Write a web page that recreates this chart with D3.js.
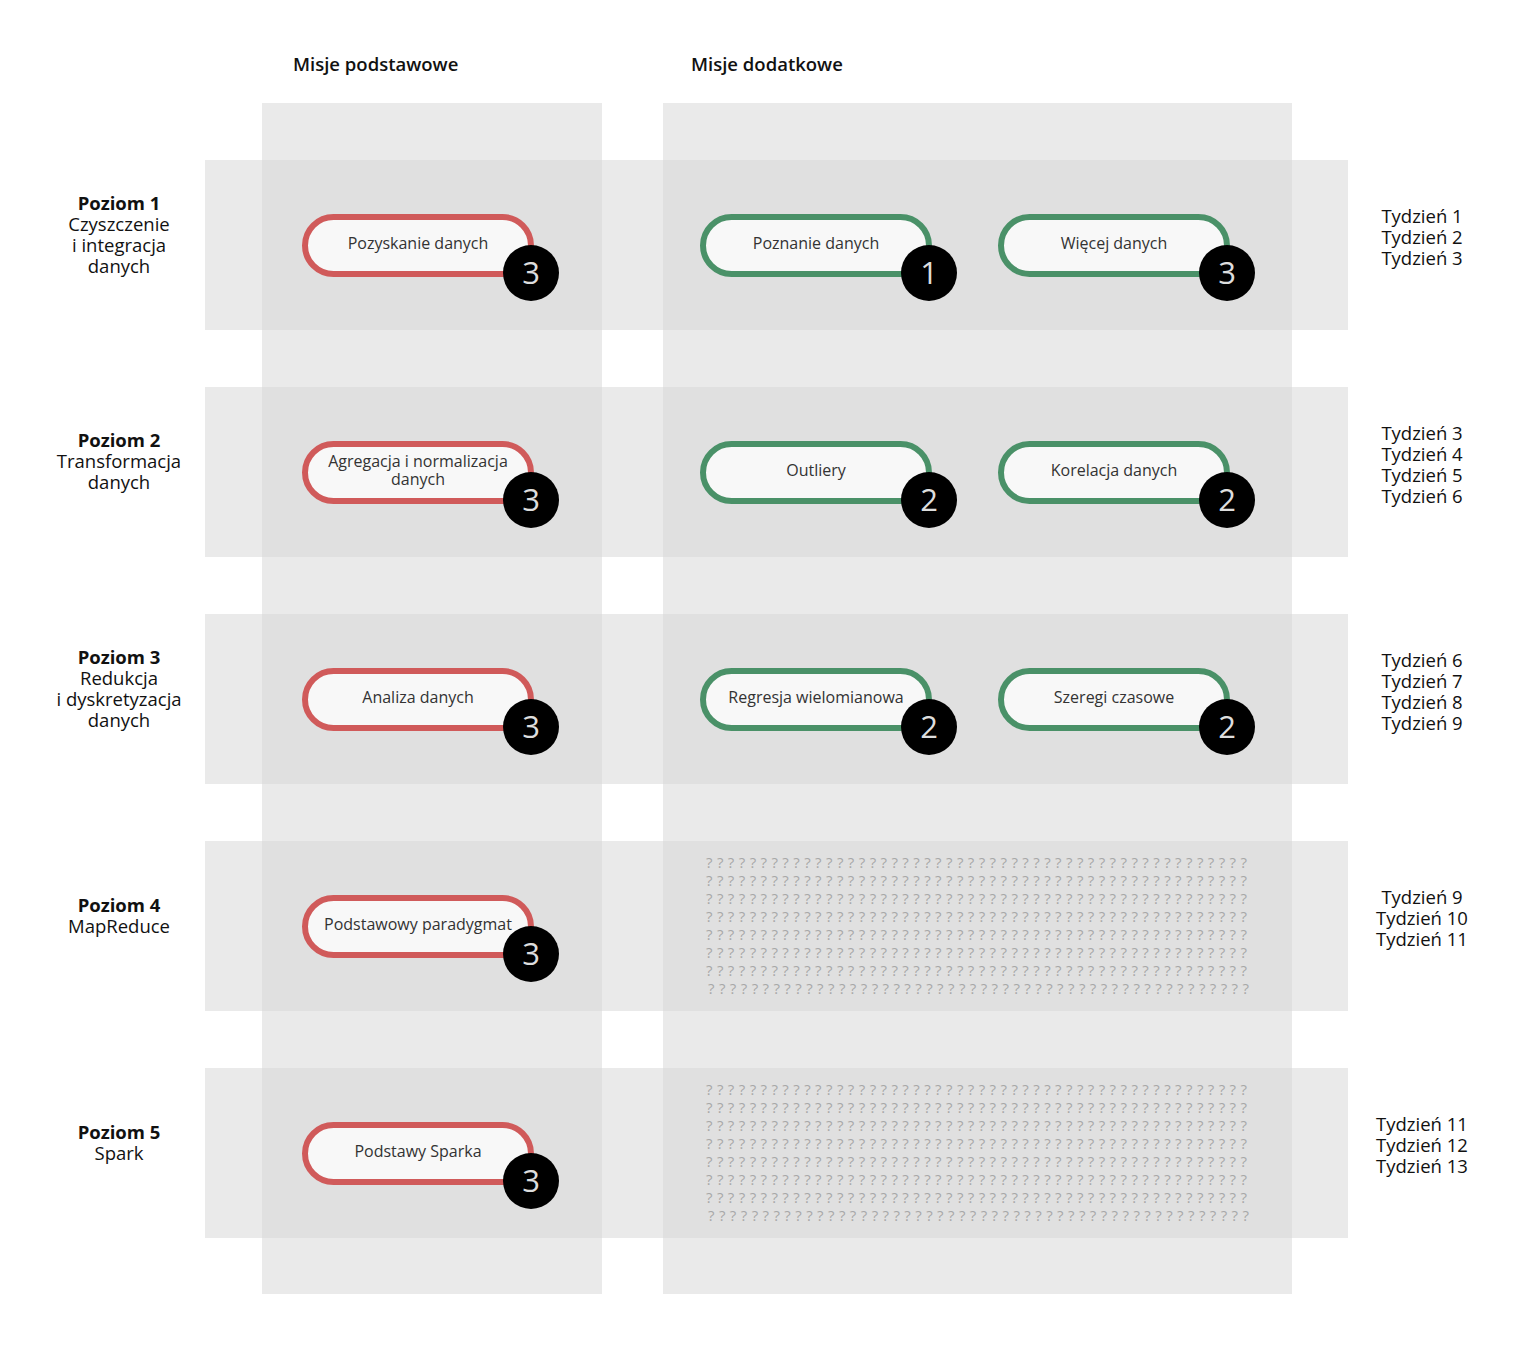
<!DOCTYPE html>
<html><head><meta charset="utf-8">
<script src="https://cdn.jsdelivr.net/npm/d3@7"></script>
<style>body{margin:0;background:#fff}text{font-family:"Open Sans","Noto Sans",sans-serif}</style>
</head><body>
<script>
const levels = ["Poziom 1", "Poziom 2", "Poziom 3", "Poziom 4", "Poziom 5"];
const levelNames = [["Czyszczenie", "i integracja", "danych"], ["Transformacja", "danych"],
  ["Redukcja", "i dyskretyzacja", "danych"], ["MapReduce"], ["Spark"]];
const weeks = [[1, 2, 3], [3, 4, 5, 6], [6, 7, 8, 9], [9, 10, 11], [11, 12, 13]];
const columns = ["Misje podstawowe", "Misje dodatkowe"];
// missions: [level, slot, label, points, type]
const missions = [
  [0, 0, "Pozyskanie danych", 3, "base"], [0, 1, "Poznanie danych", 1, "extra"], [0, 2, "Więcej danych", 3, "extra"],
  [1, 0, "Agregacja i normalizacja|danych", 3, "base"], [1, 1, "Outliery", 2, "extra"], [1, 2, "Korelacja danych", 2, "extra"],
  [2, 0, "Analiza danych", 3, "base"], [2, 1, "Regresja wielomianowa", 2, "extra"], [2, 2, "Szeregi czasowe", 2, "extra"],
  [3, 0, "Podstawowy paradygmat", 3, "base"],
  [4, 0, "Podstawy Sparka", 3, "base"]];
const unknownLevels = [3, 4];

const W = 1525, H = 1351;
const svg = d3.select("body").append("svg").attr("width", W).attr("height", H);
const y = d3.scaleBand().domain(d3.range(levels.length)).range([160, 1238]).paddingInner(57 / 227).paddingOuter(0);
const slotX = d3.scaleOrdinal().domain([0, 1, 2]).range([418, 816, 1114]);
const colRect = [[262, 602], [663, 1292]];
const color = { base: "#d05a5a", extra: "#4a9168" };

// columns
svg.selectAll("rect.col").data(colRect).join("rect")
  .attr("x", d => d[0]).attr("width", d => d[1] - d[0]).attr("y", 103).attr("height", 1191)
  .attr("fill", "#eaeaea");
svg.selectAll("text.colh").data(columns).join("text")
  .attr("x", (d, i) => i ? 691 : 293).attr("y", 71).attr("font-size", 18.5).attr("font-weight", 600)
  .attr("fill", "#111").text(d => d);

// bands
const rows = svg.selectAll("g.row").data(levels).join("g").attr("transform", (d, i) => `translate(0,${y(i)})`);
rows.append("rect").attr("x", 205).attr("width", 1143).attr("height", y.bandwidth()).attr("fill", "#eaeaea");
colRect.forEach(c => rows.append("rect").attr("x", c[0]).attr("width", c[1] - c[0])
  .attr("height", y.bandwidth()).attr("fill", "#e0e0e0"));
rows.each(function (d, i) {
  const g = d3.select(this), lines = [d].concat(levelNames[i]);
  const cy = y.bandwidth() / 2 - 10;
  const t0 = cy - (lines.length - 1) * 21 / 2 + 6;
  lines.forEach((l, k) => g.append("text").attr("x", 119).attr("y", t0 + k * 21).attr("text-anchor", "middle")
    .attr("font-size", 18.5).attr("font-weight", k ? 400 : 700).attr("fill", "#111").text(l));
  const wk = weeks[i], w0 = cy + 3 - (wk.length - 1) * 21 / 2 + 6;
  wk.forEach((n, k) => g.append("text").attr("x", 1422).attr("y", w0 + k * 21).attr("text-anchor", "middle")
    .attr("font-size", 18.5).attr("fill", "#111").text("Tydzień " + n));
});

// unknown blocks
unknownLevels.forEach(li => {
  for (let r = 0; r < 8; r++) {
    svg.append("text").attr("x", 706 + (r === 7 ? 2 : 0)).attr("y", y(li) + 27 + r * 18)
      .attr("font-size", 15).attr("fill", "#a8a8a8")
      .attr("textLength", 541).attr("lengthAdjust", "spacing").text("?".repeat(50));
  }
});

// missions
const m = svg.selectAll("g.m").data(missions).join("g")
  .attr("transform", d => `translate(${slotX(d[1])},${y(d[0]) + 85})`);
m.append("rect").attr("x", -113).attr("y", -28).attr("width", 226).attr("height", 57).attr("rx", 28.5)
  .attr("fill", "#f8f8f8").attr("stroke", d => color[d[4]]).attr("stroke-width", 6);
m.each(function (d) {
  const parts = d[2].split("|"), g = d3.select(this);
  parts.forEach((p, k) => g.append("text").attr("x", 0).attr("y", 4 - (parts.length - 1) * 9 + k * 18)
    .attr("text-anchor", "middle").attr("font-size", 16).attr("fill", "#333").text(p));
});
m.append("circle").attr("cx", 113).attr("cy", 28).attr("r", 28).attr("fill", "#000");
m.append("text").attr("x", 113).attr("y", 39).attr("text-anchor", "middle").attr("font-size", 31)
  .attr("fill", "#ddd").text(d => d[3]);
</script>
</body></html>
